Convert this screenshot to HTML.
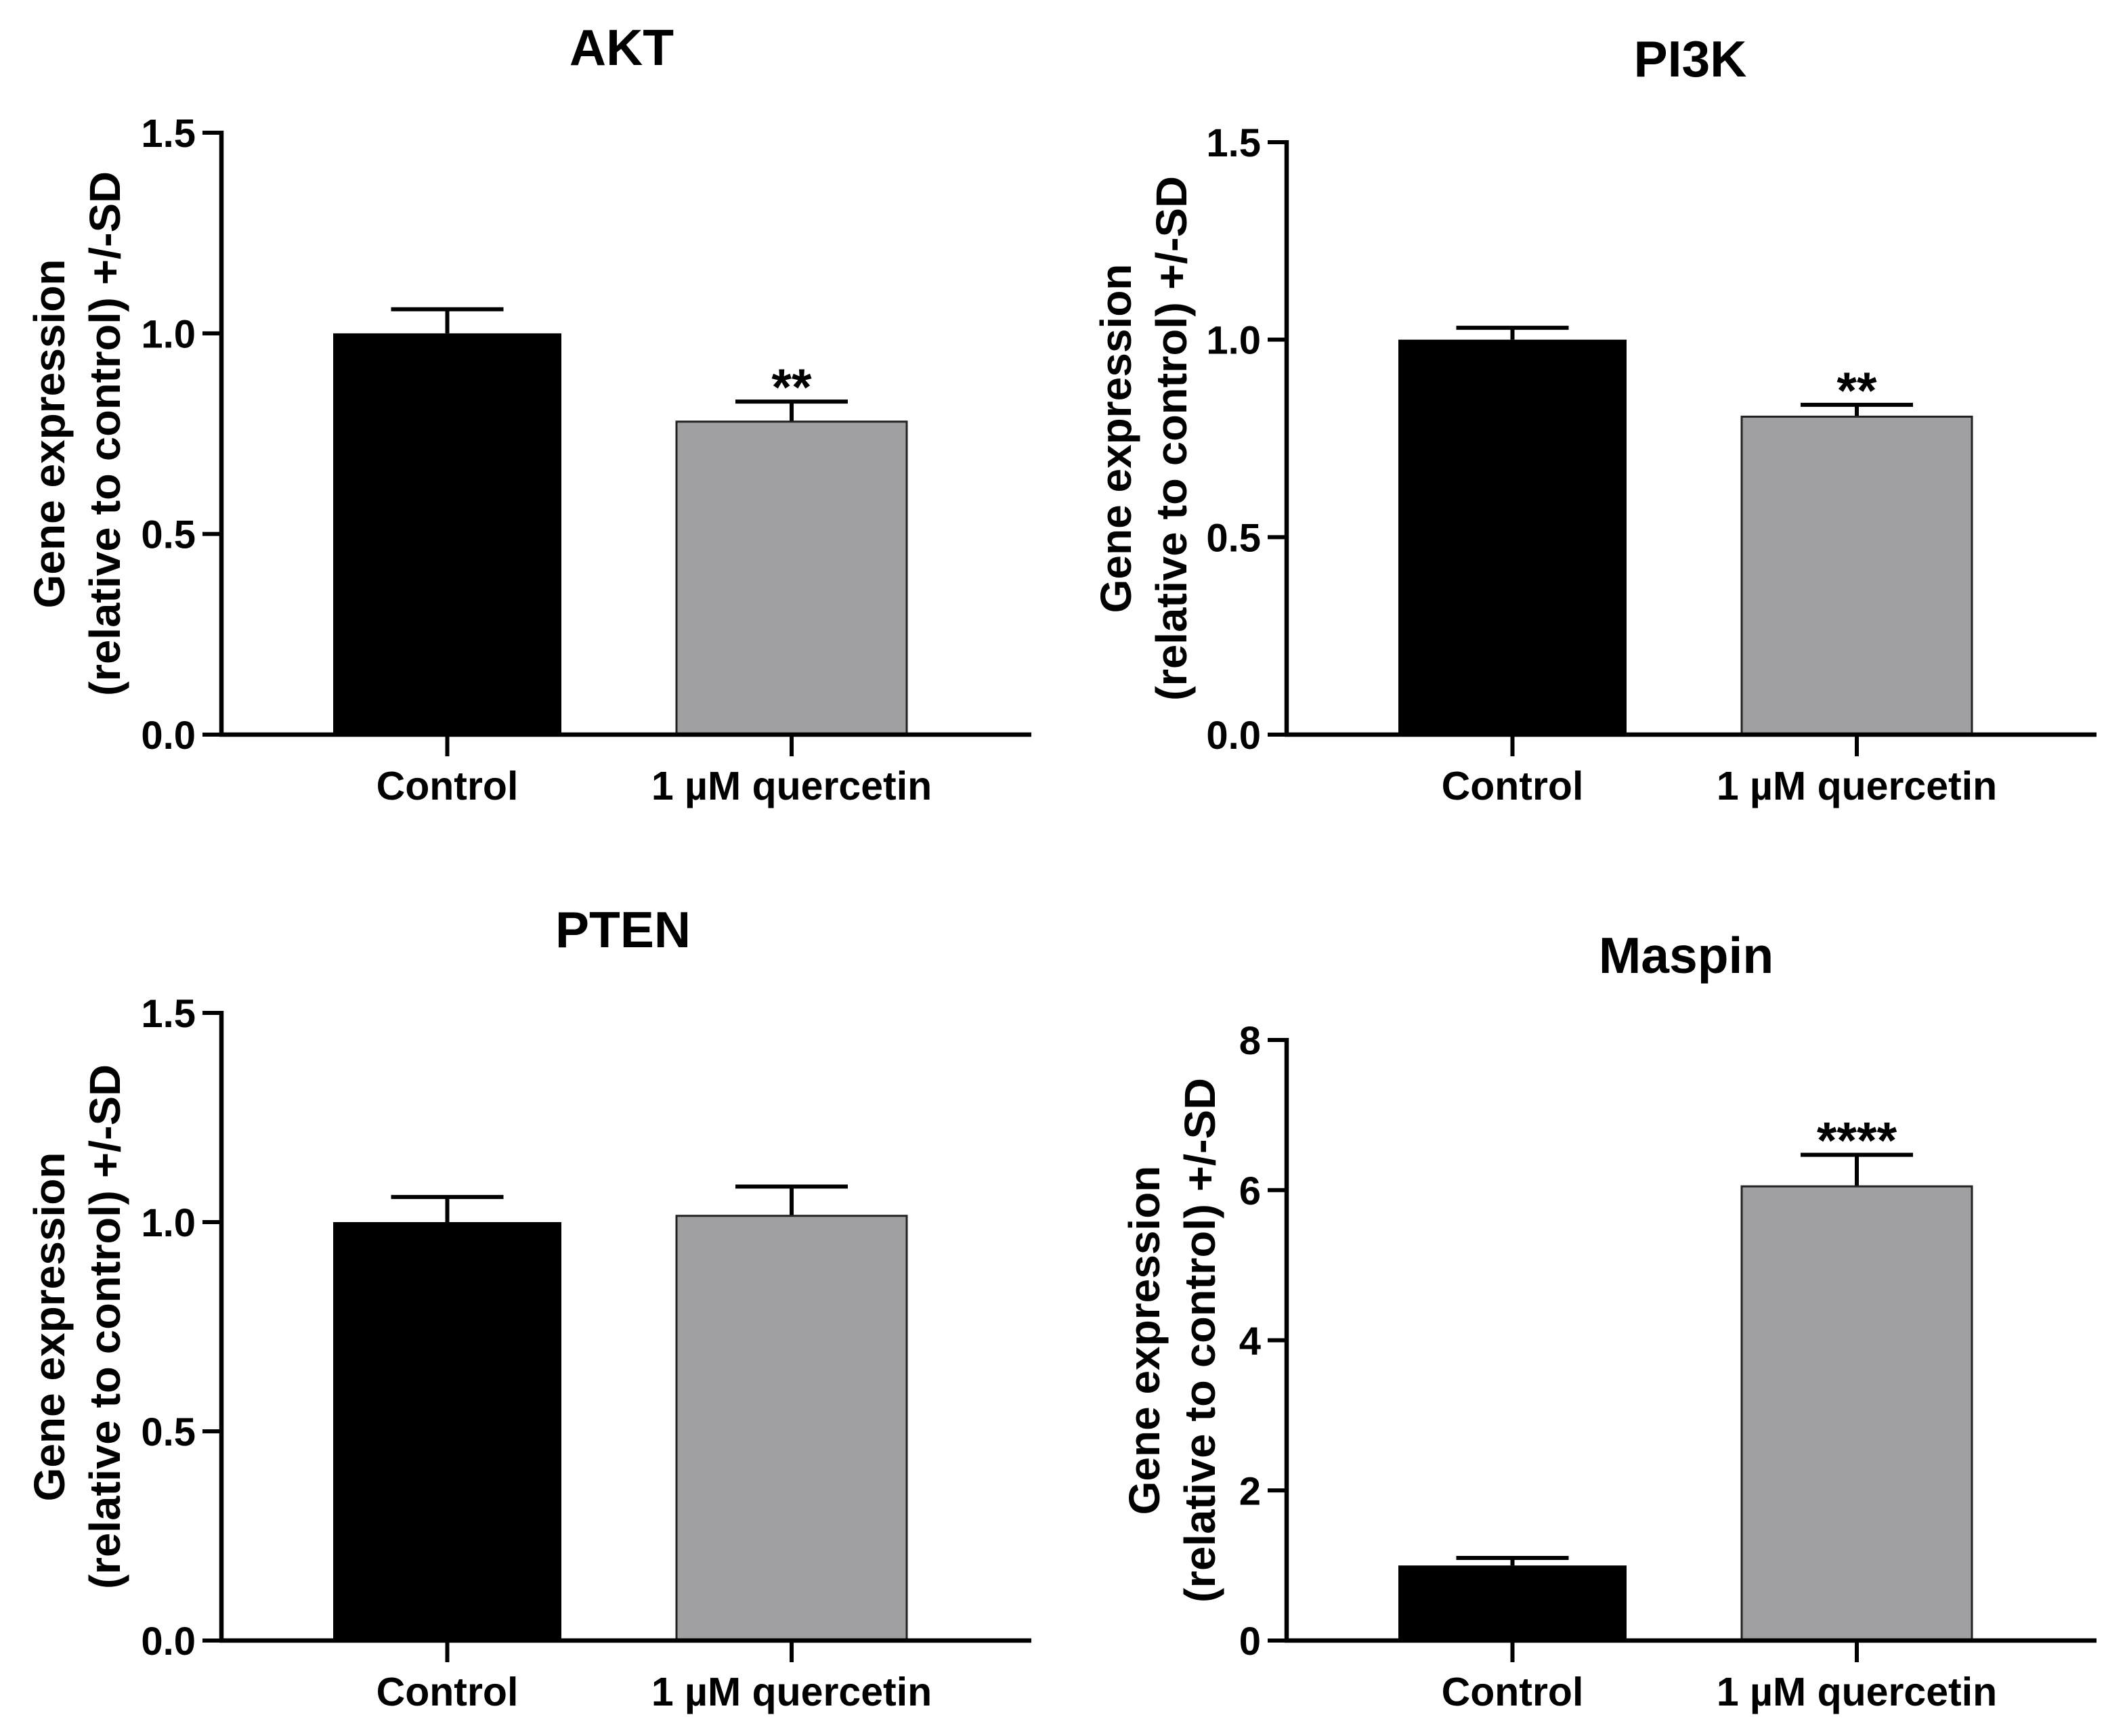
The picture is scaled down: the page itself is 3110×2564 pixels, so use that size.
<!DOCTYPE html>
<html><head><meta charset="utf-8"><style>
html,body{margin:0;padding:0;background:#fff}
svg{display:block;font-family:"Liberation Sans",Arial,sans-serif;font-weight:bold}
</style></head><body>
<svg id="fig" width="3110" height="2564" viewBox="0 0 3110 2564" xmlns="http://www.w3.org/2000/svg"></svg>
<script>
const categories = ["Control", "1 µM quercetin"];
const aktMeans = [1.0, 0.78];
const aktSD = [0.06, 0.05];
const pi3kMeans = [1.0, 0.805];
const pi3kSD = [0.03, 0.03];
const ptenMeans = [1.0, 1.015];
const ptenSD = [0.06, 0.07];
const maspinMeans = [1.0, 6.05];
const maspinSD = [0.1, 0.42];
const tickLabels15 = ["0.0", "0.5", "1.0", "1.5"];
const tickValues15 = [0, 0.5, 1.0, 1.5];
const tickLabels8 = ["0", "2", "4", "6", "8"];
const tickValues8 = [0, 2, 4, 6, 8];
const aktStars = ["", "**"];
const pi3kStars = ["", "**"];
const ptenStars = ["", ""];
const maspinStars = ["", "****"];

const NS = "http://www.w3.org/2000/svg";
const svg = document.getElementById("fig");
function mk(tag, attrs, parent) {
  const e = document.createElementNS(NS, tag);
  for (const k in attrs) e.setAttribute(k, attrs[k]);
  (parent || svg).appendChild(e);
  return e;
}

function panel(cfg) {
  const g = mk("g", {});
  
  
  const ax = cfg.axisX, y0 = cfg.y0, yTop = cfg.yTop, ymax = cfg.ymax;
  const yScale = v => y0 - (v / ymax) * (y0 - yTop);
  const barX = [[ax + 165, ax + 502], [ax + 672, ax + 1012]];
  const t = mk("text", {x: cfg.titleX, y: cfg.titleY, "font-size": 75, "text-anchor": "middle", fill: "#000"}, g);
  t.textContent = cfg.title;
  
  
  const midY = (y0 + yTop) / 2;
  const yl = mk("text", {transform: `translate(${cfg.ylabX1},${midY}) rotate(-90)`, "font-size": 64, "text-anchor": "middle", fill: "#000"}, g);
  yl.textContent = "Gene expression";
  
  
  const yl2 = mk("text", {transform: `translate(${cfg.ylabX2},${midY}) rotate(-90)`, "font-size": 64, "text-anchor": "middle", fill: "#000", textLength: 775, lengthAdjust: "spacingAndGlyphs"}, g);
  yl2.textContent = "(relative to control) +/-SD";
  
  
  for (let i = 0; i < cfg.means.length; i++) {
    const [x1, x2] = barX[i];
    const cx = (x1 + x2) / 2;
    const yv = yScale(cfg.means[i]);
    const ye = yScale(cfg.means[i] + cfg.sd[i]);
    const eb = mk("line", {x1: cx, x2: cx, y1: yv, y2: ye, stroke: "#000", "stroke-width": 6}, g);
    
    
    const cap = mk("line", {x1: cx - 83, x2: cx + 83, y1: ye, y2: ye, stroke: "#000", "stroke-width": 6}, g);
    
    
    const r = mk("rect", {x: x1, y: yv, width: x2 - x1, height: y0 - yv,
      fill: i === 0 ? "#000" : "#a0a0a2", stroke: "#222", "stroke-width": i === 0 ? 0 : 3}, g);
    
    
    if (cfg.stars[i]) {
      const s = mk("text", {x: cx, y: ye + 5, "font-size": 76, "text-anchor": "middle", fill: "#000"}, g);
      s.textContent = cfg.stars[i];
      
      
    }
    const xt = mk("line", {x1: cx, x2: cx, y1: y0, y2: y0 + 32, stroke: "#000", "stroke-width": 6}, g);
    
    
    const xl = mk("text", {x: cx, y: y0 + 96, "font-size": 59, "text-anchor": "middle", fill: "#000"}, g);
    xl.textContent = categories[i];
    
    
  }
  const ya = mk("line", {x1: ax, x2: ax, y1: yTop - 3, y2: y0 + 3, stroke: "#000", "stroke-width": 6.5}, g);
  
  
  const xa = mk("line", {x1: ax - 3, x2: ax + 1196, y1: y0, y2: y0, stroke: "#000", "stroke-width": 6.5}, g);
  
  
  for (let j = 0; j < cfg.tickValues.length; j++) {
    const ty = yScale(cfg.tickValues[j]);
    const tk = mk("line", {x1: ax - 28, x2: ax, y1: ty, y2: ty, stroke: "#000", "stroke-width": 6}, g);
    
    
    const tl = mk("text", {x: ax - 38, y: ty + 21, "font-size": 58, "text-anchor": "end", fill: "#000"}, g);
    tl.textContent = cfg.tickLabels[j];
    
    
  }
}

panel({key: "akt", title: "AKT", titleX: 918, titleY: 96, axisX: 327, y0: 1085, yTop: 196, ymax: 1.5,
  ylabX1: 95, ylabX2: 177, means: aktMeans, sd: aktSD, stars: aktStars, tickValues: tickValues15, tickLabels: tickLabels15});
panel({key: "pi3k", title: "PI3K", titleX: 2496, titleY: 113, axisX: 1900, y0: 1085, yTop: 210, ymax: 1.5,
  ylabX1: 1670, ylabX2: 1752, means: pi3kMeans, sd: pi3kSD, stars: pi3kStars, tickValues: tickValues15, tickLabels: tickLabels15});
panel({key: "pten", title: "PTEN", titleX: 920, titleY: 1399, axisX: 327, y0: 2423, yTop: 1496, ymax: 1.5,
  ylabX1: 95, ylabX2: 177, means: ptenMeans, sd: ptenSD, stars: ptenStars, tickValues: tickValues15, tickLabels: tickLabels15});
panel({key: "maspin", title: "Maspin", titleX: 2490, titleY: 1437, axisX: 1900, y0: 2423, yTop: 1536, ymax: 8,
  ylabX1: 1712, ylabX2: 1794, means: maspinMeans, sd: maspinSD, stars: maspinStars, tickValues: tickValues8, tickLabels: tickLabels8});
</script>
</body></html>
